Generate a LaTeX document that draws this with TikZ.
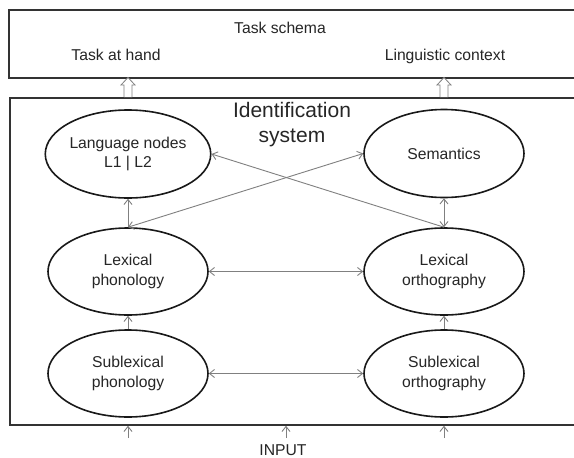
\documentclass[tikz,border=0pt]{standalone}
\usepackage{fontspec}
\setmainfont{Liberation Sans}
\usetikzlibrary{shapes.geometric,arrows.meta}
\begin{document}
\begin{tikzpicture}[x=1pt,y=-1pt,
  >={Straight Barb[length=5pt,width=8pt]},
  frame/.style={draw=black!80,line width=1.8pt,rectangle,inner sep=0pt,anchor=north west},
  unit/.style={draw=black!90,line width=1.6pt,ellipse,inner sep=0pt,
    minimum width=160pt,minimum height=87pt,align=center,
    font=\fontsize{15.7pt}{19.5pt}\selectfont,text=black!85},
  link/.style={draw=black!50,line width=0.9pt},
  label/.style={font=\fontsize{15.7pt}{19pt}\selectfont,text=black!85,inner sep=0pt,anchor=base},
  title/.style={font=\fontsize{21pt}{25pt}\selectfont,text=black!85,inner sep=0pt,anchor=base},
  hollow/.style={draw=black!50,line width=0.8pt,fill=white}]
\clip (0,0) rectangle (574,458);
\fill[white] (0,0) rectangle (574,458);

% outer boxes (open to the right)
\node[frame,minimum width=600pt,minimum height=68pt] (schema) at (8,9) {};
\node[frame,minimum width=600pt,minimum height=327pt] (ident) at (9,97) {};

% task schema labels
\node[label] (ts) at (280,33) {Task schema};
\node[label] (th) at (116,60) {Task at hand};
\node[label] (lc) at (445,60) {Linguistic context};

% identification system title
\node[title] (id1) at (292,117) {Identification};
\node[title] (id2) at (292,142) {system};

% processing units
\node[unit,minimum height=88pt] (lang) at (128,154) {Language nodes\\L1 | L2};
\node[unit,minimum height=88pt] (sem)  at (444,153.5) {Semantics};
\node[unit] (lph) at (128,271.5) {Lexical\\phonology};
\node[unit] (lor) at (444,271.5) {Lexical\\orthography};
\node[unit] (sph) at (128,373.5) {Sublexical\\phonology};
\node[unit] (sor) at (444,373.5) {Sublexical\\orthography};

% connections between units
\draw[link,->] (lph) -- (lang);
\draw[link,<->] (sem) -- (lor);
\draw[link,<->] (lph.north) -- (sem.west);
\draw[link,->] (lor.north) -- (lang.east);
\draw[link,<->] (lph) -- (lor);
\draw[link,<->] (sph) -- (sor);
\draw[link,->] (sph) -- (lph);
\draw[link,->] (sor) -- (lor);

% hollow arrows up to the task schema
\foreach \c/\n in {128/ua,444/ub}{
  \coordinate (\n) at (\c,97);
  \draw[hollow] (\n) ++(-4,0) -- ++(0,-12) -- ++(-3,0) -- ++(7,-7.5)
    -- ++(7,7.5) -- ++(-3,0) -- ++(0,12);
}

% input
\node[label] (input) at (283,455) {INPUT};
\coordinate (ia) at (128,438);
\coordinate (ib) at (286,438);
\coordinate (ic) at (444,438);
\foreach \n in {ia,ib,ic}
  \draw[link,->] (\n) -- (\n |- ident.south);
\end{tikzpicture}
\end{document}
